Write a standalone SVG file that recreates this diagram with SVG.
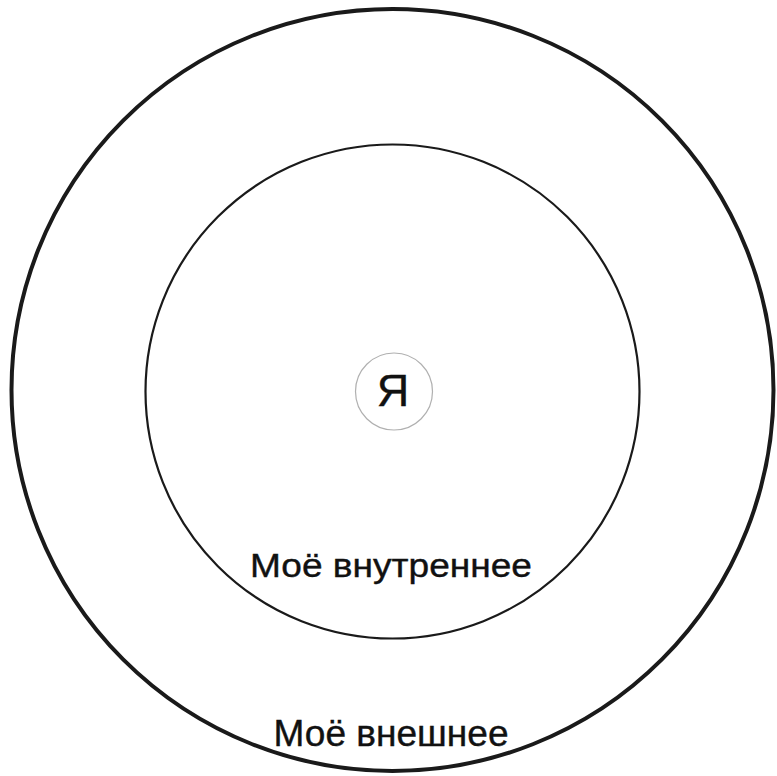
<svg xmlns="http://www.w3.org/2000/svg" width="777" height="776" viewBox="0 0 777 776">
  <style>
    .lbl { font-family: "Liberation Sans", Arial, sans-serif; fill: #111111; stroke: #111111; stroke-width: 0.4; text-anchor: middle; }
    .ring { fill: none; stroke: #1a1a1a; }
  </style>
  <rect width="777" height="776" fill="#ffffff"/>
  <g id="outer">
    <circle class="ring" cx="392.5" cy="390" r="381" stroke-width="4"/>
    <text class="lbl" x="391" y="746" font-size="36" textLength="235" lengthAdjust="spacingAndGlyphs">Моё внешнее</text>
  </g>
  <g id="inner">
    <circle class="ring" cx="392.5" cy="391.5" r="247" stroke-width="2.2"/>
    <text class="lbl" x="391" y="577" font-size="34" textLength="282" lengthAdjust="spacingAndGlyphs">Моё внутреннее</text>
  </g>
  <g id="self">
    <circle cx="394" cy="391.5" r="38.5" fill="none" stroke="#b0b0b0" stroke-width="1.2"/>
    <text class="lbl" x="393" y="406" font-size="45">Я</text>
  </g>
  <g id="connectors"></g>
</svg>
